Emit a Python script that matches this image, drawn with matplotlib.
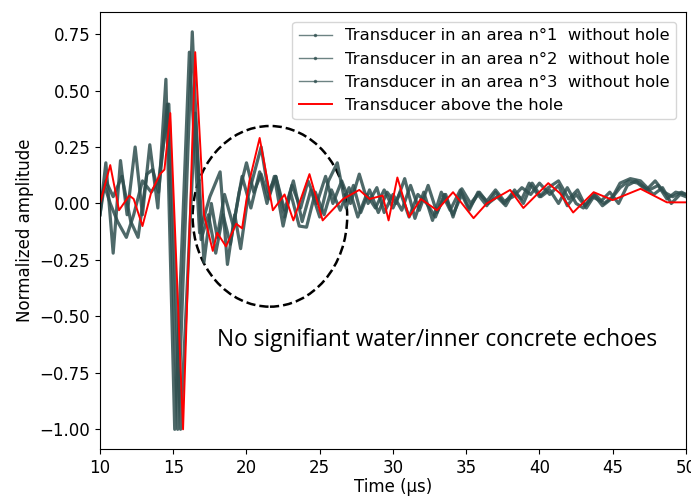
import numpy as np
import matplotlib.pyplot as plt
from matplotlib.lines import Line2D
from matplotlib.patches import Ellipse

# values (time in µs, normalized amplitude)
t1 = [10.0, 10.4, 10.9, 11.4, 11.85, 12.4, 12.9, 13.4, 13.95, 14.5, 15.1, 16.1, 16.8, 17.5,
      18.2, 18.7, 19.2, 19.6, 20.1, 21.0, 21.5, 22.0, 22.6, 23.2, 23.8, 24.4, 25.0, 25.6,
      26.2, 26.8, 27.3, 27.8, 28.4, 29.0, 29.6, 30.2, 30.8, 31.5, 32.1, 32.7, 33.3, 33.9,
      34.6, 35.2, 35.8, 36.4, 37.0, 37.6, 38.2, 38.8, 39.3, 40.0, 40.6, 41.3, 42.0, 42.6,
      43.2, 43.8, 44.4, 45.0, 45.5, 46.2, 46.9, 47.5, 48.1, 48.7, 49.3, 50.0]
a1 = [-0.05, 0.18, -0.22, 0.19, -0.05, 0.25, -0.05, 0.26, -0.02, 0.55, -1.0, 0.67, -0.13, 0.03,
      0.14, -0.27, -0.05, -0.2, 0.03, 0.25, 0.05, 0.12, -0.03, 0.10, -0.08, 0.06, -0.06, 0.10,
      0.18, -0.02, 0.08, -0.04, 0.06, -0.04, 0.05, 0.0, 0.11, -0.066, 0.05, -0.075, 0.05, -0.03,
      0.06, -0.02, 0.04, -0.01, 0.05, 0.0, 0.05, 0.02, 0.09, 0.03, 0.07, 0.10, 0.02, 0.06,
      -0.02, 0.04, 0.0, 0.03, 0.09, 0.11, 0.10, 0.06, 0.08, 0.02, 0.05, 0.04]

t2 = [10.0, 10.4, 10.9, 11.5, 12.1, 12.6, 13.2, 13.6, 14.0, 14.6, 15.3, 16.3, 16.9, 17.4,
      17.9, 18.4, 18.9, 19.5, 20.0, 20.5, 21.0, 21.5, 22.0, 22.6, 23.1, 23.7, 24.2, 24.8,
      25.4, 25.9, 26.5, 27.1, 27.7, 28.3, 28.9, 29.4, 30.0, 30.6, 31.2, 31.8, 32.4, 33.0,
      33.6, 34.1, 34.7, 35.3, 35.9, 36.5, 37.1, 37.7, 38.3, 38.9, 39.5, 40.1, 40.7, 41.3,
      41.9, 42.5, 43.0, 43.6, 44.2, 44.8, 45.4, 46.0, 46.6, 47.2, 47.8, 48.4, 49.0, 49.6, 50.0]
a2 = [0.0, 0.10, 0.03, 0.12, -0.08, -0.15, 0.13, 0.15, 0.05, 0.44, -1.0, 0.76, -0.16, -0.05,
      -0.22, -0.05, -0.18, 0.05, 0.18, 0.05, 0.13, 0.02, 0.12, -0.06, 0.08, -0.02, 0.10, 0.0,
      0.12, 0.0, 0.10, 0.0, 0.13, 0.0, 0.07, -0.04, 0.04, -0.03, 0.08, -0.03, 0.08, -0.04,
      0.04, -0.06, 0.065, 0.0, 0.05, 0.0, 0.03, -0.01, 0.06, 0.0, 0.09, 0.03, 0.06, 0.0,
      0.07, 0.0, -0.02, 0.03, 0.01, 0.05, 0.0, 0.08, 0.10, 0.07, 0.04, 0.07, 0.0, 0.04, 0.03]

t3 = [10.0, 10.3, 10.7, 11.2, 11.8, 12.3, 12.9, 13.5, 14.0, 14.7, 15.5, 16.5, 17.1, 17.6,
      18.0, 18.5, 19.1, 19.7, 20.3, 20.9, 21.4, 21.9, 22.5, 23.0, 23.6, 24.1, 24.7, 25.3,
      25.8, 26.4, 27.0, 27.6, 28.2, 28.8, 29.4, 30.0, 30.5, 31.1, 31.7, 32.3, 32.9, 33.5,
      34.1, 34.7, 35.2, 35.8, 36.4, 37.0, 37.6, 38.2, 38.8, 39.4, 40.0, 40.7, 41.3, 41.9,
      42.5, 43.1, 43.7, 44.3, 44.9, 45.5, 46.1, 46.7, 47.3, 47.9, 48.5, 49.1, 49.7, 50.0]
a3 = [-0.05, 0.08, 0.0, -0.08, -0.15, -0.05, 0.10, 0.05, 0.10, 0.44, -1.0, 0.40, -0.26, 0.0,
      -0.15, 0.04, -0.10, 0.12, -0.02, 0.14, 0.0, 0.12, -0.10, 0.05, -0.10, -0.105, 0.05, -0.05,
      0.06, -0.03, 0.07, -0.06, 0.04, -0.02, 0.06, -0.02, 0.05, -0.06, 0.04, 0.0, -0.06, 0.04,
      -0.05, 0.04, -0.03, 0.05, 0.01, 0.06, 0.01, 0.03, 0.07, 0.04, 0.09, 0.04, 0.08, -0.01,
      0.04, -0.01, 0.04, -0.01, 0.02, 0.07, 0.10, 0.09, 0.06, 0.10, 0.05, 0.03, 0.05, 0.04]

t_hole = [10.0, 10.7, 11.3, 12.0, 12.3, 12.9, 13.5, 14.1, 14.4, 14.8, 15.67, 16.5, 17.1, 17.7,
          18.0, 18.6, 19.3, 19.7, 20.2, 20.9, 21.8, 22.6, 23.2, 24.3, 25.2, 26.0, 26.6, 27.7,
          28.4, 29.3, 29.7, 30.3, 31.1, 31.9, 33.0, 34.1, 35.5, 36.4, 38.0, 38.9, 40.6, 41.4,
          42.3, 43.7, 45.0, 46.9, 48.7, 50.0]
a_hole = [0.0, 0.17, -0.03, 0.035, 0.02, -0.10, 0.05, 0.13, 0.15, 0.40, -1.0, 0.67, -0.05, -0.21,
          -0.13, -0.19, -0.09, -0.11, 0.10, 0.29, -0.03, 0.04, -0.075, 0.13, -0.075, -0.02, 0.02, 0.06,
          0.02, 0.035, -0.075, 0.115, -0.06, 0.02, -0.03, 0.05, -0.065, 0.0, 0.06, -0.02, 0.09, 0.045,
          -0.04, 0.05, 0.015, 0.065, 0.005, 0.005]

labels = ['Transducer in an area n°1  without hole',
          'Transducer in an area n°2  without hole',
          'Transducer in an area n°3  without hole',
          'Transducer above the hole']

gray = '#2f4f4f'
plt.rcParams['font.size'] = 12

fig = plt.figure(figsize=(6.91, 4.98), dpi=100)
ax = fig.add_axes([0.1447, 0.098, 0.848, 0.878])

for t, a in [(t1, a1), (t2, a2), (t3, a3)]:
    ax.plot(t, a, color=gray, lw=2.3, alpha=0.85)
ax.plot(t_hole, a_hole, color='red', lw=1.4)

ax.set_xlim(10, 50)
ax.set_ylim(-1.088, 0.848)
ax.set_yticks([-1.0, -0.75, -0.5, -0.25, 0.0, 0.25, 0.5, 0.75])
ax.set_xlabel('Time (µs)', labelpad=1)
ax.set_ylabel('Normalized amplitude')

handles = [Line2D([], [], color=gray, lw=1, alpha=0.7, marker='.', markersize=3) for _ in range(3)]
handles.append(Line2D([], [], color='red', lw=1.4))
ax.legend(handles, labels, loc='upper right', fontsize=11.8, borderaxespad=0.6)

ax.add_patch(Ellipse((21.6, -0.057), 10.55, 0.80, fill=False, ls='--', lw=1.8, color='black'))
ax.text(17.99, -0.604, 'No signifiant water/inner concrete echoes', fontsize=16.3,
        family='Open Sans', va='center', ha='left')

fig.savefig('out.png', dpi=100)
